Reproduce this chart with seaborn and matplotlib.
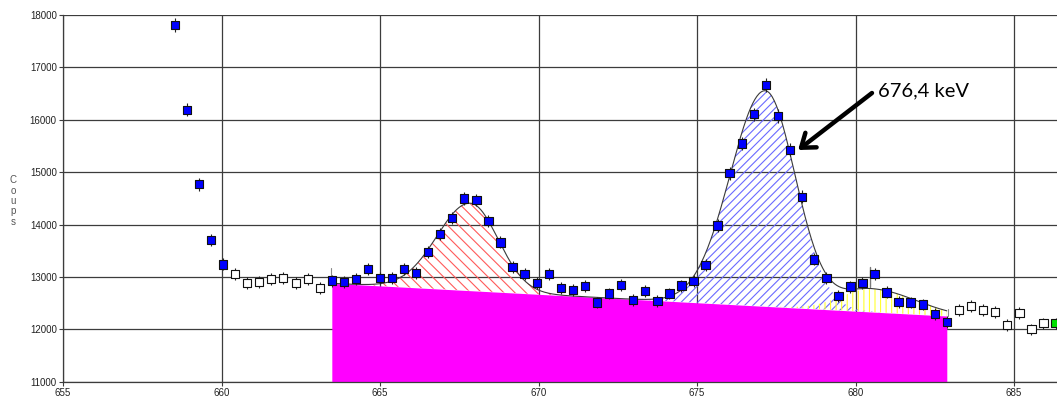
import numpy as np
import pandas as pd
import matplotlib
matplotlib.use("Agg")
import matplotlib.pyplot as plt
import seaborn as sns

# Channel energies (keV) and recorded counts
energy_kev = [
    658.53, 658.91, 659.29, 659.67, 660.05, 660.43, 660.81, 661.19, 661.57, 661.95,
    662.34, 662.72, 663.10, 663.48, 663.86, 664.24, 664.62, 665.00, 665.38, 665.76,
    666.14, 666.52, 666.90, 667.28, 667.66, 668.04, 668.42, 668.80, 669.18, 669.56,
    669.95, 670.33, 670.71, 671.09, 671.47, 671.85, 672.23, 672.61, 672.99, 673.37,
    673.75, 674.13, 674.51, 674.89, 675.27, 675.65, 676.03, 676.41, 676.79, 677.17,
    677.56, 677.94, 678.32, 678.70, 679.08, 679.46, 679.84, 680.22, 680.60, 680.98,
    681.36, 681.74, 682.12, 682.50, 682.88, 683.26, 683.64, 684.02, 684.40, 684.78,
    685.17, 685.55, 685.93, 686.31,
]
counts = [
    17810, 16190, 14770, 13700, 13240, 13060, 12880, 12900, 12955, 12985,
    12880, 12955, 12785, 12930, 12900, 12955, 13145, 12985, 12975, 13145,
    13070, 13470, 13820, 14130, 14500, 14470, 14070, 13660, 13195, 13050,
    12890, 13050, 12795, 12750, 12825, 12510, 12685, 12845, 12560, 12730,
    12540, 12685, 12835, 12925, 13230, 13980, 14980, 15550, 16105, 16660,
    16070, 15425, 14530, 13335, 12975, 12635, 12815, 12890, 13055, 12705,
    12525, 12510, 12475, 12290, 12135, 12370, 12445, 12370, 12335, 12080,
    12315, 12000, 12115, 12115,
]
# channel state: used in the fit, outside the fit, cursor channel
status = ["fit"] * 5 + ["out"] * 8 + ["fit"] * 52 + ["out"] * 8 + ["sel"]

# Fit region and linear continuum under the peaks
roi_bounds = [663.48, 682.88]
baseline_counts = [12878, 12254]

# Fitted peaks (centroid, height above continuum, low/high side widths)
peak_centroids = [667.85, 677.15, 680.55]
peak_heights = [1670, 4115, 440]
sigma_low = [1.05, 1.10, 1.00]
sigma_high = [0.875, 0.95, 1.35]
third_peak_marker = 680.46

annot_text = "676,4 keV"
annot_target = (678.19, 15423)
annot_tail = (680.52, 16511)

x_ticks = [655, 660, 665, 670, 675, 680, 685]
y_ticks = [11000, 12000, 13000, 14000, 15000, 16000, 17000, 18000]

sns.set_style("white")
plt.rcParams["font.family"] = ["Liberation Sans", "DejaVu Sans"]
plt.rcParams["hatch.linewidth"] = 0.8

df = pd.DataFrame({"energy": energy_kev, "counts": counts, "status": status})

fig = plt.figure(figsize=(10.57, 3.99), dpi=100)
ax = fig.add_axes([63 / 1057, 1 - 381.7 / 399, 1 - 63 / 1057, (381.7 - 15) / 399])

# Continuum and peak model over the fit region
e = np.linspace(roi_bounds[0], roi_bounds[1], 600)
base = np.interp(e, roi_bounds, baseline_counts)
components = []
for c, h, sl, sh in zip(peak_centroids, peak_heights, sigma_low, sigma_high):
    s = np.where(e < c, sl, sh)
    components.append(h * np.exp(-0.5 * ((e - c) / s) ** 2))
total = base + np.sum(components, axis=0)

ax.fill_between(e, y_ticks[0], base, color="#ff00ff", lw=0, zorder=2)
hatch_styles = [("#ff5a5a", "\\\\\\"), ("#6a6aff", "////"), ("#ffff30", "|||")]
for comp, (col, hatch) in zip(components, hatch_styles):
    ax.fill_between(e, base, base + comp, facecolor="none", edgecolor=col,
                    hatch=hatch, lw=0, zorder=2.5)

sns.lineplot(x=e, y=total, ax=ax, color="#3a3a3a", lw=0.8, zorder=3)

# fit-region bounds and third-peak marker
ax.plot([roi_bounds[0] - 0.03] * 2, [baseline_counts[0], 13170], color="#8a8a8a", lw=0.8, zorder=3)
ax.plot([roi_bounds[1] + 0.03] * 2, [baseline_counts[1], 12380], color="#8a8a8a", lw=0.8, zorder=3)
ax.plot([third_peak_marker] * 2, [12800, 13190], color="#7a7a7a", lw=1.0, zorder=3)

# Poisson error bars and channel markers
err = np.sqrt(df["counts"].to_numpy())
ax.errorbar(df["energy"], df["counts"], yerr=err, fmt="none",
            ecolor="#222222", elinewidth=0.8, capsize=0, zorder=3.5)
sns.scatterplot(data=df, x="energy", y="counts", hue="status",
                palette={"fit": "#0000ff", "out": "white", "sel": "#00e000"},
                marker="s", s=36, edgecolor="#111111", linewidth=0.8,
                legend=False, ax=ax, zorder=4, clip_on=True)

ax.annotate("", xy=annot_target, xytext=annot_tail,
            arrowprops=dict(arrowstyle="->,head_length=0.45,head_width=0.33",
                            lw=3.2, color="black", shrinkA=0, shrinkB=0,
                            mutation_scale=20), zorder=6)
ax.text(680.71, 16559, annot_text, fontsize=14.5, family=["Lato", "DejaVu Sans"],
        ha="left", va="center", color="black", zorder=6)

ax.set_xlim(655, 655 + (1057 - 63) / 31.7)
ax.set_ylim(y_ticks[0], y_ticks[-1])
ax.set_xticks(x_ticks)
ax.set_yticks(y_ticks)
ax.set_xlabel("")
ax.set_ylabel("")
ax.grid(True, color="#3c3c3c", lw=0.9)
ax.set_axisbelow(True)
for side in ["top", "right"]:
    ax.spines[side].set_visible(False)
for side in ["left", "bottom"]:
    ax.spines[side].set_color("#3c3c3c")
    ax.spines[side].set_linewidth(0.9)
ax.tick_params(axis="both", which="major", length=3, width=0.8, color="#3c3c3c",
               labelsize=7, labelcolor="#222222", pad=1.5, direction="out",
               left=True, bottom=True)

fig.text(13 / 1057, 1 - 201 / 399, "C\no\nu\np\ns", fontsize=7, color="#555555",
         ha="center", va="center", linespacing=1.05)

fig.savefig("out.png", dpi=100)
